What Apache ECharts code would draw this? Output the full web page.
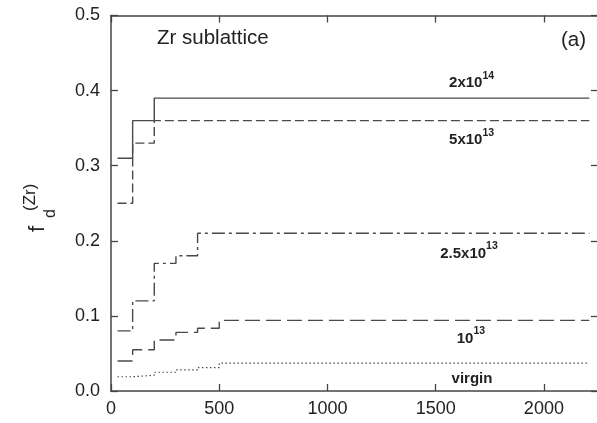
<!DOCTYPE html>
<html>
<head>
<meta charset="utf-8">
<script src="https://cdn.jsdelivr.net/npm/echarts@6/dist/echarts.min.js"></script>
<style>html,body{margin:0;padding:0;background:#fff}#c{width:597px;height:423px}</style>
</head>
<body>
<div id="c"></div>
<script>
// x positions of the steps (fluence steps)
const xSteps = [30, 100, 200, 300, 400, 500, 2210];
const xSteps3 = [30, 100, 200, 2210];
const xTicks = [0, 500, 1000, 1500, 2000];
const yTicks = [0.0, 0.1, 0.2, 0.3, 0.4, 0.5];

const s2e14 = [0.31, 0.36, 0.39, 0.39];
const s5e13 = [0.25, 0.33, 0.36, 0.36];
const s25e13 = [0.08, 0.12, 0.17, 0.18, 0.21, 0.21, 0.21];
const s1e13 = [0.04, 0.055, 0.068, 0.078, 0.0835, 0.094, 0.094];
const sVirgin = [0.019, 0.021, 0.025, 0.028, 0.031, 0.037, 0.037];

const labelNames = ['2x10|14', '5x10|13', '2.5x10|13', '10|13', 'virgin'];
const labelX = [1666, 1666, 1654, 1663, 1668];
const labelY = [0.413, 0.3375, 0.1864, 0.0732, 0.019];

function zip(xs, ys){ return ys.map((v,i)=>[xs[i], v]); }

const chart = echarts.init(document.getElementById('c'));
const lineCol = '#4a4a4a';
const axisCol = '#444';
const font = 'Arial, "Liberation Sans", sans-serif';

function mkSeries(name, xs, ys, dash, width){
  return {
    name, type:'line', step:'end', symbol:'none', silent:true,
    data: zip(xs, ys),
    lineStyle:{color:lineCol, width:width||1.3, type: dash},
    z: 3
  };
}

const axisCommon = {
  axisLine:{show:true, onZero:false, lineStyle:{color:axisCol, width:1.5}},
  axisTick:{show:true, inside:true, length:7, lineStyle:{color:axisCol, width:1.3}},
  splitLine:{show:false}
};

const option = {
  animation:false,
  backgroundColor:'#fff',
  grid:{left:111, top:15.5, width:487, height:375.5, containLabel:false, outerBoundsMode:'none'},
  xAxis:[
    Object.assign({type:'value', min:0, max:2250, interval:500, position:'bottom',
      axisLabel:{fontSize:18, color:'#222', fontFamily:font, margin:9, showMaxLabel:false,
        formatter:v=> xTicks.includes(v)? String(v): ''}}, axisCommon),
    Object.assign({type:'value', min:0, max:2250, interval:500, position:'top',
      axisLabel:{show:false}}, axisCommon)
  ],
  yAxis:[
    Object.assign({type:'value', min:0, max:0.5, interval:0.1, position:'left',
      axisLabel:{fontSize:18, color:'#222', fontFamily:font, margin:11,
        formatter:v=> v.toFixed(1)}}, axisCommon),
    Object.assign({type:'value', min:0, max:0.5, interval:0.1, position:'right',
      axisLabel:{show:false}}, axisCommon)
  ],
  series:[
    mkSeries('2x10^14', xSteps3, s2e14, 'solid', 1.4),
    mkSeries('5x10^13', xSteps3, s5e13, [9,4], 1.4),
    mkSeries('2.5x10^13', xSteps, s25e13, [13,4,3,4], 1.4),
    mkSeries('10^13', xSteps, s1e13, [15,6], 1.4),
    mkSeries('virgin', xSteps, sVirgin, [1.5,2.5], 1.2)
  ]
};
chart.setOption(option);

const gfx = [];
labelNames.forEach((n,i)=>{
  const p = chart.convertToPixel({xAxisIndex:0, yAxisIndex:0}, [labelX[i], labelY[i]]);
  const parts = n.split('|');
  let text = parts.length>1 ? '{b|'+parts[0]+'}{s|'+parts[1]+'}' : '{b|'+parts[0]+'}';
  gfx.push({type:'text', x:p[0], y:p[1], z:10,
    style:{text, align:'center', verticalAlign:'middle', fill:'#222',
      rich:{
        b:{fontSize:15, fontWeight:'bold', fontFamily:font, fill:'#222', lineHeight:20, verticalAlign:'bottom'},
        s:{fontSize:10.5, fontWeight:'bold', fontFamily:font, fill:'#222', lineHeight:20, verticalAlign:'top', padding:[0,0,7,0]}
      }}});
});
// panel title and tag
gfx.push({type:'text', x:157, y:38, style:{text:'Zr sublattice', fontSize:20.5, fontFamily:font, fill:'#222', verticalAlign:'middle'}});
gfx.push({type:'text', x:561, y:40, style:{text:'(a)', fontSize:20.5, fontFamily:font, fill:'#222', verticalAlign:'middle'}});
// y-axis title f_d^(Zr)
gfx.push({type:'group', x:45, y:232, rotation:Math.PI/2, children:[
  {type:'text', x:0, y:4, style:{text:'f', fontSize:22, fontFamily:font, fill:'#222', verticalAlign:'bottom'}},
  {type:'text', x:14, y:14, style:{text:'d', fontSize:16, fontFamily:font, fill:'#222', verticalAlign:'bottom'}},
  {type:'text', x:21, y:-6, style:{text:'(Zr)', fontSize:17, fontFamily:font, fill:'#222', verticalAlign:'bottom'}}
]});
chart.setOption({graphic:gfx});
</script>
</body>
</html>
